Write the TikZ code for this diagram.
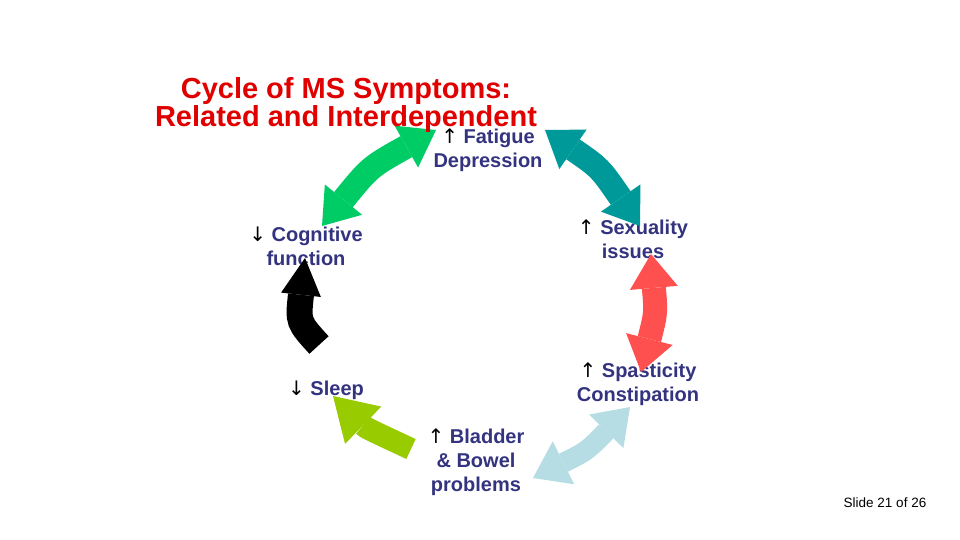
\documentclass[tikz,border=0pt]{standalone}
\usepackage{fontspec}
\setmainfont{Liberation Sans}
\newfontfamily\symfont{DejaVu Sans}
\usetikzlibrary{arrows.meta}
\definecolor{titlered}{RGB}{224,0,0}
\definecolor{lblnavy}{RGB}{51,51,128}
\definecolor{agreen}{RGB}{0,204,102}
\definecolor{ateal}{RGB}{0,153,153}
\definecolor{ared}{RGB}{255,80,80}
\definecolor{alblue}{RGB}{183,221,228}
\definecolor{alime}{RGB}{153,204,0}
\newcommand{\upar}{{\symfont\fontseries{m}\selectfont\color{black}↑}}
\newcommand{\dnar}{{\symfont\fontseries{m}\selectfont\color{black}↓}}
\tikzset{
  lbl/.style={text=lblnavy, font=\bfseries\fontsize{20}{24}\selectfont, align=center, inner sep=0pt},
  ttl/.style={text=titlered, font=\bfseries\fontsize{29}{28}\selectfont, align=center, inner sep=0pt},
  dblarrow/.style={line width=24pt, {Triangle[width=48pt,length=34pt,line width=0pt]}-{Triangle[width=48pt,length=34pt,line width=0pt]}},
  sglarrow/.style={line width=22pt, -{Triangle[width=52pt,length=42pt,line width=0pt]}}
}
\begin{document}
\begin{tikzpicture}[x=1pt,y=-1pt]
\useasboundingbox (0,0) rectangle (960,540);
\fill[white] (0,0) rectangle (960,540);

% labels
\node[lbl] (fatigue) at (488,150) {\upar\ Fatigue\\Depression};
\node[lbl] (cognitive) at (306,246) {\dnar\ Cognitive\\function};
\node[lbl] (sexuality) at (633,239) {\upar\ Sexuality\\issues};
\node[lbl] (spasticity) at (638,384) {\upar\ Spasticity\\Constipation};
\node[lbl] (sleep) at (326,390) {\dnar\ Sleep};
\node[lbl] (bladder) at (476,462) {\upar\ Bladder\\\&\ Bowel\\problems};

% arrow end points
\coordinate (g1) at (322,226); \coordinate (g2) at (436,130);
\coordinate (t1) at (545,130); \coordinate (t2) at (640,226);
\coordinate (r1) at (651,254); \coordinate (r2) at (641,372);
\coordinate (b1) at (630,407); \coordinate (b2) at (533,478);
\coordinate (s1) at (411,449); \coordinate (s2) at (333,396);
\coordinate (k1) at (319,345); \coordinate (k2) at (305,258);

\draw[agreen, dblarrow] (g1) .. controls (370,167) .. (g2);
\draw[ateal, dblarrow] (t1) .. controls (600,168) .. (t2);
\draw[ared, dblarrow] (r1) .. controls (656,313) .. (r2);
\draw[alblue, dblarrow, line width=20pt] (b1) .. controls (587,451) .. (b2);
\draw[alime, sglarrow] (s1) .. controls (366,428) .. (s2);
\draw[black, line width=26pt, -{Triangle[width=40pt,length=37pt,line width=0pt]}] (k1) .. controls (298,322) .. (k2);

% title
\node[ttl] (title) at (346,105) {Cycle of MS Symptoms:\\Related and Interdependent};

% slide number
\node[inner sep=0pt, font=\fontsize{13.5}{15}\selectfont] (slideno) at (885,503) {Slide 21 of 26};
\end{tikzpicture}
\end{document}
